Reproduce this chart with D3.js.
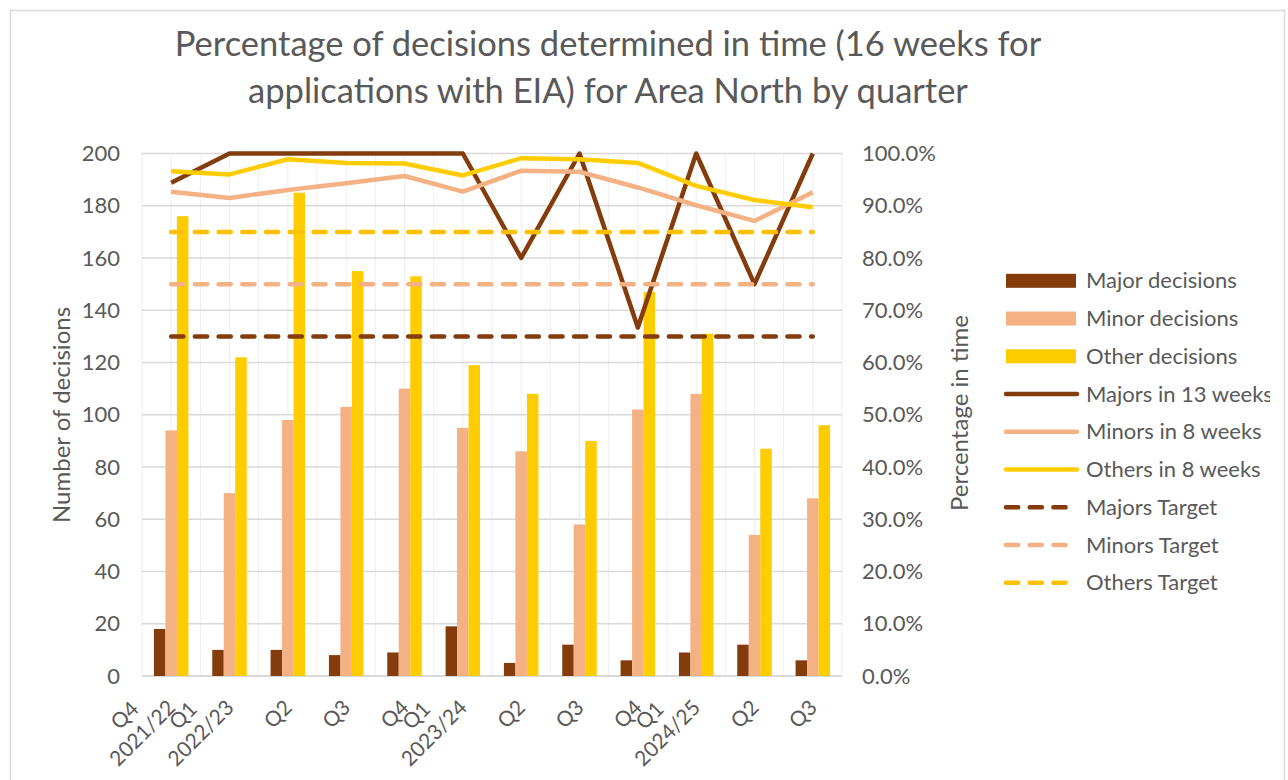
<!DOCTYPE html>
<html>
<head>
<meta charset="utf-8">
<script src="https://cdn.jsdelivr.net/npm/d3@7"></script>
<style>
  body { margin: 0; background: #fff; }
  svg text { font-family: Lato, "Open Sans", sans-serif; fill: #595959; }
</style>
</head>
<body>
<div id="chart"></div>
<script>
// quarters and financial years for the category axis
var quarters = ["Q4", "Q1", "Q2", "Q3", "Q4", "Q1", "Q2", "Q3", "Q4", "Q1", "Q2", "Q3"];
var years = ["2021/22", "2022/23", "", "", "", "2023/24", "", "", "", "2024/25", "", ""];

// number of decisions (left axis)
var majorDecisions = [18, 10, 10, 8, 9, 19, 5, 12, 6, 9, 12, 6];
var minorDecisions = [94, 70, 98, 103, 110, 95, 86, 58, 102, 108, 54, 68];
var otherDecisions = [176, 122, 185, 155, 153, 119, 108, 90, 147, 131, 87, 96];

// percentage in time (right axis)
var majorsIn13 = [94.4, 100, 100, 100, 100, 100, 80, 100, 66.7, 100, 75, 100];
var minorsIn8 = [92.7, 91.5, 93.0, 94.3, 95.7, 92.7, 96.7, 96.5, 93.5, 90.1, 87.1, 92.6];
var othersIn8 = [96.6, 96.0, 98.9, 98.2, 98.1, 95.8, 99.1, 98.9, 98.2, 93.8, 91.1, 89.7];
var majorsTarget = [65, 65, 65, 65, 65, 65, 65, 65, 65, 65, 65, 65];
var minorsTarget = [75, 75, 75, 75, 75, 75, 75, 75, 75, 75, 75, 75];
var othersTarget = [85, 85, 85, 85, 85, 85, 85, 85, 85, 85, 85, 85];

var leftTicks = [0, 20, 40, 60, 80, 100, 120, 140, 160, 180, 200];
var rightTicks = [0, 10, 20, 30, 40, 50, 60, 70, 80, 90, 100];

var brown = "#843c0c", peach = "#f4b183", yellow = "#ffcc00", gold = "#ffc000";

var W = 1288, H = 780;
var plot = { left: 142, right: 842, top: 153.5, bottom: 676 };

var svg = d3.select("#chart").append("svg")
  .attr("width", W).attr("height", H);

// chart border
svg.append("rect")
  .attr("x", 10.5).attr("y", 10.5).attr("width", 1274).attr("height", 800)
  .attr("fill", "#fff").attr("stroke", "#d9d9d9").attr("stroke-width", 1.5);

var idx = d3.range(quarters.length);
var x = d3.scaleBand().domain(idx).range([plot.left, plot.right]).paddingInner(0).paddingOuter(0);
var xs = d3.scaleBand().domain([0, 1, 2]).range([0, 34.5]);
var yL = d3.scaleLinear().domain([0, 200]).range([plot.bottom, plot.top]);
var yR = d3.scaleLinear().domain([0, 100]).range([plot.bottom, plot.top]);
var cx = function(i) { return x(i) + x.bandwidth() / 2; };

// title
var title = svg.append("text").attr("text-anchor", "middle").style("font-size", "34.5px");
title.append("tspan").attr("x", 608).attr("y", 56)
  .text("Percentage of decisions determined in time (16 weeks for");
title.append("tspan").attr("x", 608).attr("y", 103)
  .text("applications with EIA) for Area North by quarter");

// vertical gridlines, every half category
var grid = svg.append("g");
grid.selectAll("line.v").data(d3.range(0, quarters.length * 2 + 1)).enter().append("line")
  .attr("x1", function(k) { return plot.left + k * x.bandwidth() / 2; })
  .attr("x2", function(k) { return plot.left + k * x.bandwidth() / 2; })
  .attr("y1", plot.top).attr("y2", plot.bottom)
  .attr("stroke", "#efefef").attr("stroke-width", 1);

grid.selectAll("line.h").data(leftTicks).enter().append("line")
  .attr("x1", plot.left).attr("x2", plot.right)
  .attr("y1", function(d) { return yL(d); }).attr("y2", function(d) { return yL(d); })
  .attr("stroke", "#d9d9d9").attr("stroke-width", function(d) { return d === 0 ? 2 : 1.3; });

// left axis
var leftAxis = svg.append("g").attr("transform", "translate(" + 120 + ",0)")
  .call(d3.axisLeft(yL).tickValues(leftTicks).tickSize(0).tickPadding(0));
leftAxis.select(".domain").remove();
leftAxis.selectAll("text").style("font-size", "22px").attr("fill", "#595959").style("font-family", "Lato");

// right axis
var rightAxis = svg.append("g").attr("transform", "translate(" + 862 + ",0)")
  .call(d3.axisRight(yR).tickValues(rightTicks).tickSize(0).tickPadding(0)
    .tickFormat(function(d) { return d.toFixed(1) + "%"; }));
rightAxis.select(".domain").remove();
rightAxis.selectAll("text").style("font-size", "22px").attr("fill", "#595959").style("font-family", "Lato");

// axis titles
svg.append("text").attr("transform", "translate(70,415) rotate(-90)")
  .attr("text-anchor", "middle").style("font-size", "24px").text("Number of decisions");
svg.append("text").attr("transform", "translate(968,413) rotate(-90)")
  .attr("text-anchor", "middle").style("font-size", "24px").text("Percentage in time");

// bars
var barSeries = [
  { name: "Major decisions", values: majorDecisions, color: brown },
  { name: "Minor decisions", values: minorDecisions, color: peach },
  { name: "Other decisions", values: otherDecisions, color: yellow }
];
var bars = svg.append("g");
barSeries.forEach(function(s, j) {
  bars.selectAll("rect.s" + j).data(s.values).enter().append("rect")
    .attr("x", function(d, i) { return cx(i) - 17.25 + xs(j); })
    .attr("width", xs.bandwidth())
    .attr("y", function(d) { return yL(d); })
    .attr("height", function(d) { return plot.bottom - yL(d); })
    .attr("fill", s.color);
});

// lines
var lineSeries = [
  { name: "Majors in 13 weeks", values: majorsIn13, color: brown },
  { name: "Minors in 8 weeks", values: minorsIn8, color: peach },
  { name: "Others in 8 weeks", values: othersIn8, color: yellow },
  { name: "Majors Target", values: majorsTarget, color: brown, dash: true },
  { name: "Minors Target", values: minorsTarget, color: peach, dash: true },
  { name: "Others Target", values: othersTarget, color: gold, dash: true }
];
var line = d3.line().x(function(d, i) { return cx(i); }).y(function(d) { return yR(d); });
var lines = svg.append("g");
lineSeries.forEach(function(s) {
  lines.append("path").datum(s.values)
    .attr("d", line)
    .attr("fill", "none")
    .attr("stroke", s.color)
    .attr("stroke-width", 4.5)
    .attr("stroke-linejoin", "round")
    .attr("stroke-linecap", s.dash ? "round" : "butt")
    .attr("stroke-dasharray", s.dash ? "12.2,11.5" : null);
});

// category labels, rotated
var labels = svg.append("g");
idx.forEach(function(i) {
  var g = labels.append("g")
    .attr("transform", "translate(" + (cx(i) + 5.5) + "," + 709 + ") rotate(-45)");
  var lines2 = years[i] ? [quarters[i], years[i]] : [quarters[i]];
  var last = g.append("text").attr("text-anchor", "end").style("font-size", "21px")
    .attr("x", 0).attr("y", 0).text(lines2[lines2.length - 1]);
  if (lines2.length > 1) {
    var w = last.node().getComputedTextLength();
    g.append("text").attr("text-anchor", "middle").style("font-size", "21px")
      .attr("x", -w / 2).attr("y", -25).text(lines2[0]);
  }
});

// legend, clipped at the chart edge
svg.append("clipPath").attr("id", "legclip").append("rect")
  .attr("x", 990).attr("y", 250).attr("width", 280).attr("height", 360);
var legend = svg.append("g").attr("clip-path", "url(#legclip)");
var legItems = barSeries.concat(lineSeries);
legItems.forEach(function(s, k) {
  var yc = 280.8 + k * 37.75;
  var row = legend.append("g");
  if (k < 3) {
    row.append("rect").attr("x", 1006).attr("y", yc - 7).attr("width", 70).attr("height", 14)
      .attr("fill", s.color);
  } else {
    row.append("line").attr("x1", 1006).attr("x2", s.dash ? 1068 : 1077)
      .attr("y1", yc).attr("y2", yc)
      .attr("stroke", s.color).attr("stroke-width", 4.5)
      .attr("stroke-linecap", "round")
      .attr("stroke-dasharray", s.dash ? "12.2,11.5" : null);
  }
  row.append("text").attr("x", 1086).attr("y", yc + 7.5).style("font-size", "22px").text(s.name);
});
</script>
</body>
</html>
